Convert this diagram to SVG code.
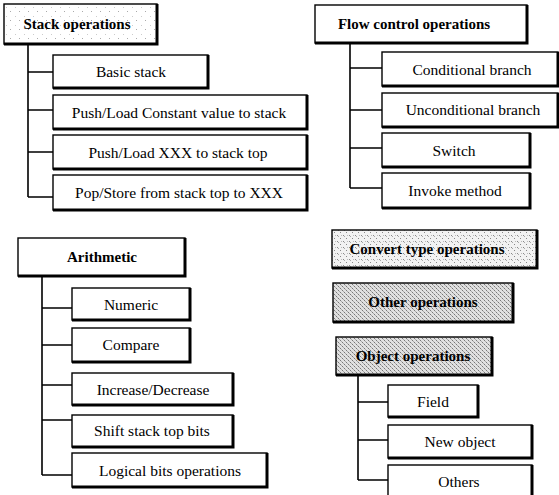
<svg xmlns="http://www.w3.org/2000/svg" width="559" height="495" viewBox="0 0 559 495">
<style>
.b{fill:#fff;stroke:#000;stroke-width:1.4}
.s{fill:none;stroke:#000;stroke-width:3}
.t{font-family:"Liberation Serif","Times New Roman",serif;font-size:15.5px;fill:#000;text-anchor:middle}
.h{font-weight:bold;font-size:15px}
.c{fill:none;stroke:#000;stroke-width:1.6}
</style>
<defs>
<pattern id="p1" width="9" height="9" patternUnits="userSpaceOnUse">
<rect width="9" height="9" fill="#fff"/>
<rect x="1" y="2" width="1" height="1" fill="#aaa"/>
<rect x="6" y="7" width="1" height="1" fill="#ccc"/>
</pattern>
<pattern id="p2" width="6" height="6" patternUnits="userSpaceOnUse">
<rect width="6" height="6" fill="#f2f2f2"/>
<rect x="1" y="1" width="1" height="1" fill="#888"/>
<rect x="2" y="2" width="1" height="1" fill="#aaa"/>
<rect x="4" y="4" width="1" height="1" fill="#888"/>
<rect x="5" y="1" width="1" height="1" fill="#bbb"/>
</pattern>
<pattern id="p3" width="4" height="4" patternUnits="userSpaceOnUse">
<rect width="4" height="4" fill="#e0e0e0"/>
<rect x="0" y="0" width="1" height="1" fill="#777"/>
<rect x="2" y="2" width="1" height="1" fill="#777"/>
<rect x="1" y="1" width="1" height="1" fill="#aaa"/>
<rect x="3" y="3" width="1" height="1" fill="#aaa"/>
</pattern>
</defs>

<g id="connectors">
<path class="c" d="M28 44V197M28 72H53M28 110H53M28 152H53M28 197H53"/>
<path class="c" d="M350 43V188M350 68H382M350 110H382M350 148H382M350 188H382"/>
<path class="c" d="M42 276V475M42 308H72M42 345H72M42 385H72M42 420H72M42 475H72"/>
<path class="c" d="M358 375V480M358 402H388M358 440H388M358 480H388"/>
</g>

<g id="stack-operations">
<rect class="b" x="4" y="4" width="153" height="40" style="fill:url(#p1)"/>
<path class="s" d="M157 4V44H4"/>
<text class="t h" x="77" y="29">Stack operations</text>
</g>
<g id="basic-stack">
<rect class="b" x="53" y="55" width="155" height="33"/>
<path class="s" d="M208 55V88H53"/>
<text class="t" x="131" y="77">Basic stack</text>
</g>
<g id="push-constant">
<rect class="b" x="53" y="95" width="254" height="34"/>
<path class="s" d="M307 95V129H53"/>
<text class="t" x="179" y="118">Push/Load Constant value to stack</text>
</g>
<g id="push-xxx">
<rect class="b" x="53" y="135" width="254" height="34"/>
<path class="s" d="M307 135V169H53"/>
<text class="t" x="178" y="158">Push/Load XXX to stack top</text>
</g>
<g id="pop-store">
<rect class="b" x="53" y="175" width="254" height="35"/>
<path class="s" d="M307 175V210H53"/>
<text class="t" x="179" y="198">Pop/Store from stack top to XXX</text>
</g>

<g id="flow-control">
<rect class="b" x="315" y="5" width="212" height="38"/>
<path class="s" d="M527 5V43H315"/>
<text class="t h" x="414" y="29">Flow control operations</text>
</g>
<g id="conditional-branch">
<rect class="b" x="382" y="52" width="176" height="34"/>
<path class="s" d="M558 52V86H382"/>
<text class="t" x="472" y="75">Conditional branch</text>
</g>
<g id="unconditional-branch">
<rect class="b" x="382" y="93" width="176" height="34"/>
<path class="s" d="M558 93V127H382"/>
<text class="t" x="473" y="115">Unconditional branch</text>
</g>
<g id="switch">
<rect class="b" x="382" y="133" width="148" height="34"/>
<path class="s" d="M530 133V167H382"/>
<text class="t" x="454" y="156">Switch</text>
</g>
<g id="invoke-method">
<rect class="b" x="382" y="173" width="148" height="35"/>
<path class="s" d="M530 173V208H382"/>
<text class="t" x="455" y="196">Invoke method</text>
</g>

<g id="arithmetic">
<rect class="b" x="18" y="238" width="167" height="38"/>
<path class="s" d="M185 238V276H18"/>
<text class="t h" x="102" y="262">Arithmetic</text>
</g>
<g id="numeric">
<rect class="b" x="72" y="288" width="118" height="32"/>
<path class="s" d="M190 288V320H72"/>
<text class="t" x="131" y="310">Numeric</text>
</g>
<g id="compare">
<rect class="b" x="72" y="328" width="118" height="34"/>
<path class="s" d="M190 328V362H72"/>
<text class="t" x="131" y="350">Compare</text>
</g>
<g id="increase-decrease">
<rect class="b" x="72" y="373" width="161" height="32"/>
<path class="s" d="M233 373V405H72"/>
<text class="t" x="153" y="395">Increase/Decrease</text>
</g>
<g id="shift-bits">
<rect class="b" x="72" y="415" width="161" height="32"/>
<path class="s" d="M233 415V447H72"/>
<text class="t" x="152" y="436">Shift stack top bits</text>
</g>
<g id="logical-bits">
<rect class="b" x="72" y="453" width="195" height="34"/>
<path class="s" d="M267 453V487H72"/>
<text class="t" x="170" y="476">Logical bits operations</text>
</g>

<g id="convert-type">
<rect class="b" x="332" y="230" width="205" height="38" style="fill:url(#p2)"/>
<path class="s" d="M537 230V268H332"/>
<text class="t h" x="427" y="254">Convert type operations</text>
</g>
<g id="other-operations">
<rect class="b" x="333" y="283" width="180" height="39" style="fill:url(#p3)"/>
<path class="s" d="M513 283V322H333"/>
<text class="t h" x="423" y="307">Other operations</text>
</g>
<g id="object-operations">
<rect class="b" x="336" y="337" width="156" height="38" style="fill:url(#p3)"/>
<path class="s" d="M492 337V375H336"/>
<text class="t h" x="413" y="361">Object operations</text>
</g>
<g id="field">
<rect class="b" x="388" y="385" width="90" height="32"/>
<path class="s" d="M478 385V417H388"/>
<text class="t" x="433" y="407">Field</text>
</g>
<g id="new-object">
<rect class="b" x="388" y="425" width="144" height="33"/>
<path class="s" d="M532 425V458H388"/>
<text class="t" x="460" y="447">New object</text>
</g>
<g id="others">
<rect class="b" x="388" y="465" width="144" height="36"/>
<path class="s" d="M532 465V501"/>
<text class="t" x="459" y="487">Others</text>
</g>
</svg>
